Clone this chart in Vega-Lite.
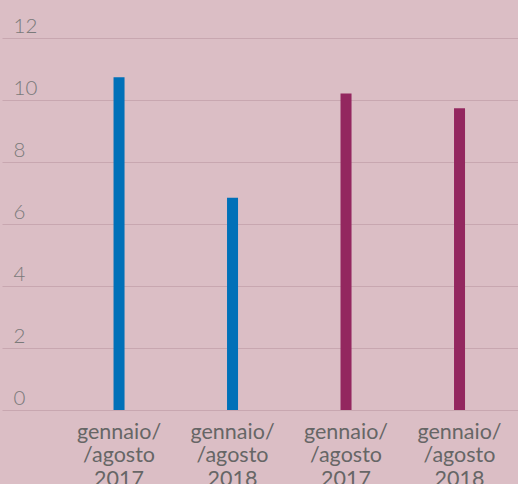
{
  "$schema": "https://vega.github.io/schema/vega-lite/v6.json",
  "autosize": {"type": "none"},
  "padding": {"left": 2, "right": 0, "top": 38, "bottom": 74},
  "width": 516,
  "height": 372,
  "background": "#dbbec5",
  "config": {
    "view": {"stroke": null},
    "font": "Lato"
  },
  "data": {
    "values": [
      {"barra": "gennaio/|/agosto|2017|A", "gruppo": "A", "valore": 10.73},
      {"barra": "gennaio/|/agosto|2018|A", "gruppo": "A", "valore": 6.85},
      {"barra": "gennaio/|/agosto|2017|B", "gruppo": "B", "valore": 10.21},
      {"barra": "gennaio/|/agosto|2018|B", "gruppo": "B", "valore": 9.73}
    ]
  },
  "mark": {"type": "bar"},
  "encoding": {
    "x": {
      "field": "barra",
      "type": "nominal",
      "sort": null,
      "scale": {"paddingInner": 0.903, "paddingOuter": 0.7247, "align": 0.678},
      "axis": {
        "title": null,
        "labelExpr": "slice(split(datum.value, '|'), 0, 3)",
        "labelAngle": 0,
        "labelFontSize": 21.5,
        "labelColor": "#666666",
        "labelLineHeight": 23.5,
        "labelPadding": 11,
        "labelBaseline": "top",
        "ticks": false,
        "domain": false,
        "grid": false
      }
    },
    "y": {
      "field": "valore",
      "type": "quantitative",
      "scale": {"domain": [0, 12], "nice": false},
      "axis": {
        "title": null,
        "values": [0, 2, 4, 6, 8, 10, 12],
        "labelFontSize": 20.5,
        "labelFontWeight": 300,
        "labelColor": "#7a7a7a",
        "labelAlign": "left",
        "labelBaseline": "alphabetic",
        "labelPadding": -11,
        "labelOffset": -6,
        "ticks": false,
        "domain": false,
        "grid": true,
        "gridColor": "#c8a7b0",
        "gridWidth": 1
      }
    },
    "color": {
      "field": "gruppo",
      "type": "nominal",
      "scale": {"domain": ["A", "B"], "range": ["#0070b8", "#93275f"]},
      "legend": null
    }
  }
}
